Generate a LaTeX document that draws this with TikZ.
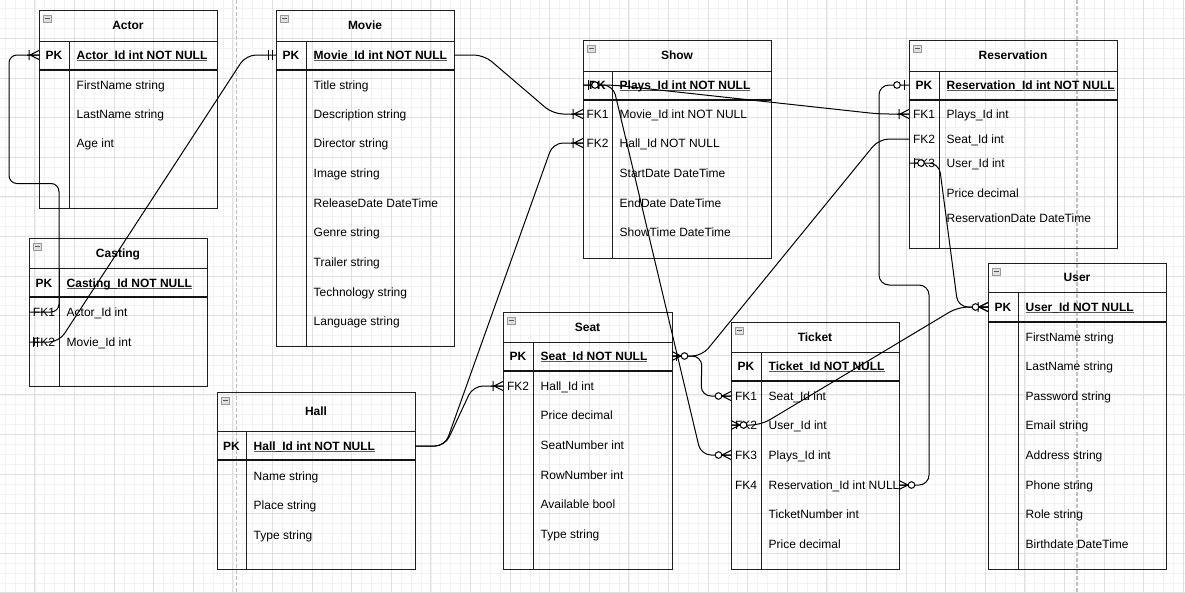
\documentclass[tikz,border=0pt]{standalone}
\usepackage{fontspec}
\setmainfont{Liberation Sans}
\usetikzlibrary{calc}

% underlined primary-key field name
\newcommand\pkname[1]{\setbox0\hbox{#1}\rlap{\color{black!65}\rule[-1.9pt]{\wd0}{0.75pt}}\box0}

\tikzset{
  erfont/.style={font=\fontsize{12}{14}\selectfont},
  erbold/.style={font=\fontsize{12}{14}\selectfont\bfseries},
  tablebox/.style={draw=black!88, line width=1pt, inner sep=0pt, outer sep=0pt},
  sepline/.style={draw=black!88, line width=1pt},
  pkline/.style={draw=black!92, line width=1.5pt},
  iconbox/.style={draw=black!40, fill=black!12, line width=0.6pt},
  iconminus/.style={draw=black!65, line width=0.8pt},
  titletext/.style={erbold, anchor=base, inner sep=0pt},
  keytext/.style={erfont, anchor=base, inner sep=0pt},
  pkkey/.style={erbold, anchor=base, inner sep=0pt},
  fieldtext/.style={erfont, anchor=base west, inner sep=0pt},
  pkfield/.style={erbold, anchor=base west, inner sep=0pt},
  minorgrid/.style={draw=black!5, line width=0.6pt},
  majorgrid/.style={draw=black!12, line width=0.8pt},
  pagebreak/.style={draw=black!25, line width=1.2pt, dash pattern=on 4pt off 2pt},
  conn/.style={draw=black, line width=1pt, rounded corners=10pt},
  mk/.style={draw=black, line width=1pt},
  % relationship end markers; the entity edge is at the origin, the line runs along +x
  erOneMany/.pic={\draw[mk] (0,-4.5) -- (9,0) -- (0,4.5) (0,0) -- (12,0) (10,-5) -- (10,5);},
  erZeroMany/.pic={\draw[mk] (0,-4.5) -- (9,0) -- (0,4.5) (0,0) -- (9,0); \draw[mk, fill=white] (12.5,0) circle (3.3);},
  erMandOne/.pic={\draw[mk] (4,-5) -- (4,5) (8,-5) -- (8,5);},
  erZeroOne/.pic={\draw[mk] (5,-5) -- (5,5); \draw[mk, fill=white] (12,0) circle (3.3);},
  erOne/.pic={\draw[mk] (4,-5) -- (4,5);},
}

% name, left, top, right, bottom, divider, header bottom, key row bottom, title
\newcommand\ertable[9]{%
  \pgfmathsetmacro\erw{#4-#2}%
  \pgfmathsetmacro\erh{#5-#3}%
  \node[tablebox, anchor=north west, minimum width=\erw pt, minimum height=\erh pt] (#1) at (#2,#3) {};
  \draw[sepline] (#2,#7) -- (#4,#7);
  \draw[pkline] (#2,#8) -- (#4,#8);
  \draw[sepline] (#6,#7) -- (#6,#5);
  \node[titletext] (#1-title) at ({(#2+#4)/2},{(#3+#7)/2+4.2}) {#9};
  \draw[iconbox] ({#2+4.5},{#3+5}) rectangle ++(7.5,7);
  \draw[iconminus] ({#2+6},{#3+8.5}) -- ++(4.5,0);
}
\newcommand\erkey[4]{\node[keytext] (#1) at (#2,{#3+4.2}) {#4};}
\newcommand\erpk[4]{\node[pkkey] (#1) at (#2,{#3+4.2}) {#4};}
\newcommand\erfield[4]{\node[fieldtext] (#1) at (#2,{#3+4.2}) {#4};}
\newcommand\erpkfield[4]{\node[pkfield] (#1) at (#2,{#3+4.2}) {\pkname{#4}};}

\begin{document}
\begin{tikzpicture}[x=1pt, y=-1pt]
\useasboundingbox (0,0) rectangle (1185,592);
\fill[white] (0,0) rectangle (1185,592);

% background grid and page breaks
\begin{scope}
  \clip (0,0) rectangle (1185,592);
  \foreach \i in {0,...,121} \draw[minorgrid] ({-4.8+9.9*\i},0) -- ++(0,592);
  \foreach \i in {0,...,61} \draw[minorgrid] (0,{-1.2+9.9*\i}) -- ++(1185,0);
  \foreach \i in {0,...,30} \draw[majorgrid] ({-4.8+39.6*\i},0) -- ++(0,592);
  \foreach \i in {0,...,15} \draw[majorgrid] (0,{-1.2+39.6*\i}) -- ++(1185,0);
  \draw[pagebreak] (236.5,0) -- (236.5,592);
  \draw[pagebreak] (1077,0) -- (1077,592);
\end{scope}

% tables
\ertable{actor}{39}{10}{217}{208}{69}{41}{70}{Actor}
\erpk{actor-pk}{54}{55}{PK}
\erpkfield{actor-id}{76.5}{55}{Actor\_Id int NOT NULL}
\erfield{actor-first}{76.5}{85}{FirstName string}
\erfield{actor-last}{76.5}{114}{LastName string}
\erfield{actor-age}{76.5}{143}{Age int}

\ertable{movie}{276}{10}{454}{346}{306}{41}{70}{Movie}
\erpk{movie-pk}{291}{55}{PK}
\erpkfield{movie-id}{313.5}{55}{Movie\_Id int NOT NULL}
\erfield{movie-title}{313.5}{85}{Title string}
\erfield{movie-desc}{313.5}{114}{Description string}
\erfield{movie-director}{313.5}{143}{Director string}
\erfield{movie-image}{313.5}{173}{Image string}
\erfield{movie-release}{313.5}{203}{ReleaseDate DateTime}
\erfield{movie-genre}{313.5}{232}{Genre string}
\erfield{movie-trailer}{313.5}{262}{Trailer string}
\erfield{movie-tech}{313.5}{292}{Technology string}
\erfield{movie-lang}{313.5}{321}{Language string}

\ertable{show}{583}{40}{771}{258}{612}{71}{100}{Show}
\erpk{show-pk}{597.5}{85}{PK}
\erkey{show-fk1}{597.5}{114}{FK1}
\erkey{show-fk2}{597.5}{143}{FK2}
\erpkfield{show-id}{619.5}{85}{Plays\_Id int NOT NULL}
\erfield{show-movie}{619.5}{114}{Movie\_Id int NOT NULL}
\erfield{show-hall}{619.5}{143}{Hall\_Id NOT NULL}
\erfield{show-start}{619.5}{173}{StartDate DateTime}
\erfield{show-end}{619.5}{203}{EndDate DateTime}
\erfield{show-time}{619.5}{232}{ShowTime DateTime}

\ertable{reservation}{909}{40}{1117}{248}{939}{71}{100}{Reservation}
\erpk{res-pk}{924}{85}{PK}
\erkey{res-fk1}{924}{114}{FK1}
\erkey{res-fk2}{924}{139}{FK2}
\erkey{res-fk3}{924}{163}{FK3}
\erpkfield{res-id}{946.5}{85}{Reservation\_Id int NOT NULL}
\erfield{res-plays}{946.5}{114}{Plays\_Id int}
\erfield{res-seat}{946.5}{139}{Seat\_Id int}
\erfield{res-user}{946.5}{163}{User\_Id int}
\erfield{res-price}{946.5}{193}{Price decimal}
\erfield{res-date}{946.5}{218}{ReservationDate DateTime}

\ertable{casting}{29}{238}{207}{386}{59}{268}{297}{Casting}
\erpk{casting-pk}{44}{283}{PK}
\erkey{casting-fk1}{44}{312}{FK1}
\erkey{casting-fk2}{44}{342}{FK2}
\erpkfield{casting-id}{66.5}{283}{Casting\_Id NOT NULL}
\erfield{casting-actor}{66.5}{312}{Actor\_Id int}
\erfield{casting-movie}{66.5}{342}{Movie\_Id int}

\ertable{hall}{217}{392}{415}{569}{246}{431}{460}{Hall}
\erpk{hall-pk}{231.5}{446}{PK}
\erpkfield{hall-id}{253.5}{446}{Hall\_Id int NOT NULL}
\erfield{hall-name}{253.5}{476}{Name string}
\erfield{hall-place}{253.5}{505}{Place string}
\erfield{hall-type}{253.5}{535}{Type string}

\ertable{seat}{503}{312}{672}{569}{533}{342}{371}{Seat}
\erpk{seat-pk}{518}{356}{PK}
\erkey{seat-fk2}{518}{386}{FK2}
\erpkfield{seat-id}{540.5}{356}{Seat\_Id NOT NULL}
\erfield{seat-hall}{540.5}{386}{Hall\_Id int}
\erfield{seat-price}{540.5}{415}{Price decimal}
\erfield{seat-number}{540.5}{445}{SeatNumber int}
\erfield{seat-row}{540.5}{475}{RowNumber int}
\erfield{seat-avail}{540.5}{504}{Available bool}
\erfield{seat-type}{540.5}{534}{Type string}

\ertable{ticket}{731}{322}{899}{569}{761}{352}{381}{Ticket}
\erpk{ticket-pk}{746}{366}{PK}
\erkey{ticket-fk1}{746}{396}{FK1}
\erkey{ticket-fk2}{746}{425}{FK2}
\erkey{ticket-fk3}{746}{455}{FK3}
\erkey{ticket-fk4}{746}{485}{FK4}
\erpkfield{ticket-id}{768.5}{366}{Ticket\_Id NOT NULL}
\erfield{ticket-seat}{768.5}{396}{Seat\_Id int}
\erfield{ticket-user}{768.5}{425}{User\_Id int}
\erfield{ticket-plays}{768.5}{455}{Plays\_Id int}
\erfield{ticket-res}{768.5}{485}{Reservation\_Id int NULL}
\erfield{ticket-number}{768.5}{514}{TicketNumber int}
\erfield{ticket-price}{768.5}{544}{Price decimal}

\ertable{user}{988}{263}{1166}{569}{1018}{292}{322}{User}
\erpk{user-pk}{1003}{307}{PK}
\erpkfield{user-id}{1025.5}{307}{User\_Id NOT NULL}
\erfield{user-first}{1025.5}{337}{FirstName string}
\erfield{user-last}{1025.5}{366}{LastName string}
\erfield{user-pass}{1025.5}{396}{Password string}
\erfield{user-email}{1025.5}{425}{Email string}
\erfield{user-address}{1025.5}{455}{Address string}
\erfield{user-phone}{1025.5}{485}{Phone string}
\erfield{user-role}{1025.5}{514}{Role string}
\erfield{user-birth}{1025.5}{544}{Birthdate DateTime}

% connection points on the row edges
\coordinate (actor-pk-w) at (actor.west |- 0,55);
\coordinate (movie-pk-w) at (movie.west |- 0,55);
\coordinate (movie-pk-e) at (movie.east |- 0,55);
\coordinate (casting-fk1-w) at (casting.west |- 0,312);
\coordinate (casting-fk2-w) at (casting.west |- 0,342);
\coordinate (show-pk-w) at (show.west |- 0,85);
\coordinate (show-fk1-w) at (show.west |- 0,114);
\coordinate (show-fk2-w) at (show.west |- 0,143);
\coordinate (hall-pk-e) at (hall.east |- 0,446);
\coordinate (seat-pk-e) at (seat.east |- 0,356);
\coordinate (seat-fk2-w) at (seat.west |- 0,386);
\coordinate (res-pk-w) at (reservation.west |- 0,85);
\coordinate (res-fk1-w) at (reservation.west |- 0,114);
\coordinate (res-fk2-w) at (reservation.west |- 0,139);
\coordinate (res-fk3-w) at (reservation.west |- 0,163);
\coordinate (ticket-fk1-w) at (ticket.west |- 0,396);
\coordinate (ticket-fk2-w) at (ticket.west |- 0,425);
\coordinate (ticket-fk3-w) at (ticket.west |- 0,455);
\coordinate (ticket-fk4-e) at (ticket.east |- 0,485);
\coordinate (user-pk-w) at (user.west |- 0,307);

% relationships
\draw[conn, rounded corners=8pt] (actor-pk-w) -- ++(-30,0) -- (9,183.5) -- (59,183.5)
  -- ([xshift=30pt]casting-fk1-w) -- (casting-fk1-w);
\draw[conn] (movie-pk-w) -- ++(-30,0) -- ([xshift=30pt]casting-fk2-w) -- (casting-fk2-w);
\draw[conn] (movie-pk-e) -- ++(30,0) -- ([xshift=-30pt]show-fk1-w) -- (show-fk1-w);
\draw[conn] (hall-pk-e) -- ++(30,0) -- ([xshift=-30pt]show-fk2-w) -- (show-fk2-w);
\draw[conn] (hall-pk-e) -- ++(30,0) -- ([xshift=-30pt]seat-fk2-w) -- (seat-fk2-w);
\draw[conn] (show-pk-w) -- ++(30,0) -- ([xshift=-30pt]res-fk1-w) -- (res-fk1-w);
\draw[conn] (show-pk-w) -- ++(30,0) -- ([xshift=-30pt]ticket-fk3-w) -- (ticket-fk3-w);
\draw[conn] (seat-pk-e) -- ++(30,0) -- ([xshift=-30pt]res-fk2-w) -- (res-fk2-w);
\draw[conn] (seat-pk-e) -- ++(30,0) -- ([xshift=-30pt]ticket-fk1-w) -- (ticket-fk1-w);
\draw[conn] (ticket-fk2-w) -- ++(30,0) -- ([xshift=-30pt]user-pk-w) -- (user-pk-w);
\draw[conn] (res-fk3-w) -- ++(30,0) -- ([xshift=-30pt]user-pk-w) -- (user-pk-w);
\draw[conn] (res-pk-w) -- ++(-30,0) -- (879,285) -- (929,285)
  -- ([xshift=30pt]ticket-fk4-e) -- (ticket-fk4-e);

% end markers
\pic[xscale=-1] at (actor-pk-w) {erOneMany};
\pic[xscale=-1] at (movie-pk-w) {erMandOne};
\pic at (casting-fk2-w) {erMandOne};
\pic[xscale=-1] at (show-fk1-w) {erOneMany};
\pic[xscale=-1] at (show-fk2-w) {erOneMany};
\pic[xscale=-1] at (seat-fk2-w) {erOneMany};
\pic at (show-pk-w) {erZeroOne};
\pic[xscale=-1] at (res-fk1-w) {erOneMany};
\pic[xscale=-1] at (ticket-fk3-w) {erZeroMany};
\pic at (seat-pk-e) {erZeroMany};
\pic at (seat-pk-e) {erOne};
\pic[xscale=-1] at (ticket-fk1-w) {erZeroMany};
\pic at (ticket-fk2-w) {erZeroMany};
\pic[xscale=-1] at (user-pk-w) {erOneMany};
\pic[xscale=-1] at (user-pk-w) {erZeroMany};
\pic at (res-fk3-w) {erZeroOne};
\pic[xscale=-1] at (res-pk-w) {erZeroOne};
\pic at (ticket-fk4-e) {erZeroMany};
\end{tikzpicture}
\end{document}
